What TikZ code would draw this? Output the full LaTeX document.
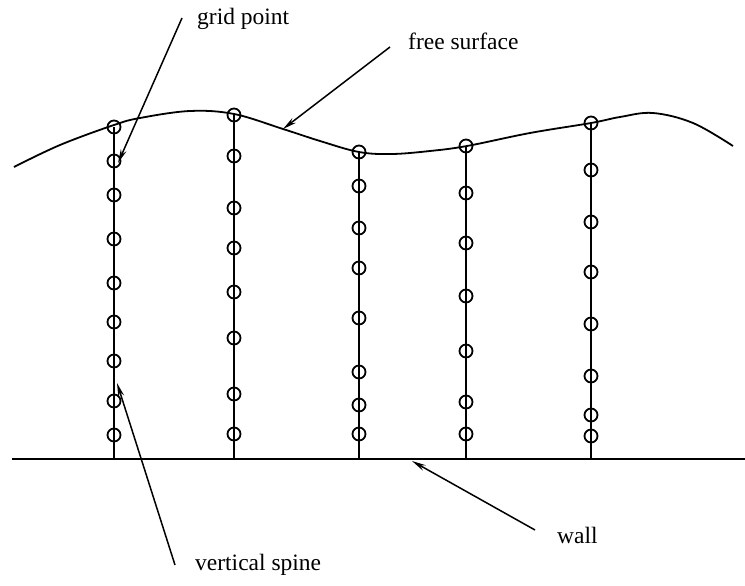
\documentclass[tikz,border=0pt]{standalone}
\usepackage{fontspec}
\setmainfont{Liberation Serif}
\usetikzlibrary{arrows.meta}
\begin{document}
\begin{tikzpicture}[x=1pt,y=-1pt,
  gp/.style={circle,draw,line width=1.8pt,minimum size=13pt,inner sep=0pt},
  spineline/.style={line width=1.6pt},
  lbl/.style={anchor=base west,inner sep=0pt,font=\fontsize{23.5}{28}\selectfont},
  pointer/.style={line width=1.5pt,-{Stealth[length=14pt,width=6pt]}}]
\useasboundingbox (0,0) rectangle (745,586);
% wall
\coordinate (wL) at (12,459);
\coordinate (wR) at (745,459);
\draw[line width=2pt] (wL) -- (wR);
% free surface
\draw[line width=1.8pt] plot[smooth,tension=0.6] coordinates {(14,167) (60,145) (114,125) (140,118) (190,111) (234,114) (283,129) (320,141) (359,152) (392,154) (430,151) (467,146) (530,133) (591,123) (620,117) (653,113) (693,123) (733,146)};
% spines
\foreach \n/\x/\yt in {1/114/127, 2/234/115, 3/359/152, 4/466/146, 5/591/123}{
  \coordinate (s\n top) at (\x,\yt);
  \coordinate (s\n bot) at (\x,459);
  \draw[spineline] (s\n top) -- (s\n bot);
}
\foreach \n/\x/\ys in {1/114/{127,161,195,239,283,322,361,401,435},
                       2/234/{115,156,208,248,292,338,394,434},
                       3/359/{152,186,228,268,318,372,405,434},
                       4/466/{146,193,243,296,351,402,434},
                       5/591/{123,170,222,272,324,376,415,436}}{
  \foreach \y [count=\k] in \ys {
    \node[gp] (c\n-\k) at (\x,\y) {};
  }
}
% labels
\node[lbl] (lgrid) at (197,25) {grid point};
\node[lbl] (lfree) at (408,50) {free surface};
\node[lbl] (lspine) at (195,570) {vertical spine};
\node[lbl] (lwall) at (557,543) {wall};
% arrow tails and tips
\coordinate (tg) at (182,18);
\coordinate (hg) at (118,163);
\coordinate (tf) at (390,47);
\coordinate (hf) at (283,129);
\coordinate (ts) at (175,565);
\coordinate (hs) at (117,383);
\coordinate (tw) at (535,530);
\coordinate (hw) at (412,461);
\draw[pointer] (tg) -- (hg);
\draw[pointer] (tf) -- (hf);
\draw[pointer] (ts) -- (hs);
\draw[pointer] (tw) -- (hw);
\end{tikzpicture}
\end{document}
